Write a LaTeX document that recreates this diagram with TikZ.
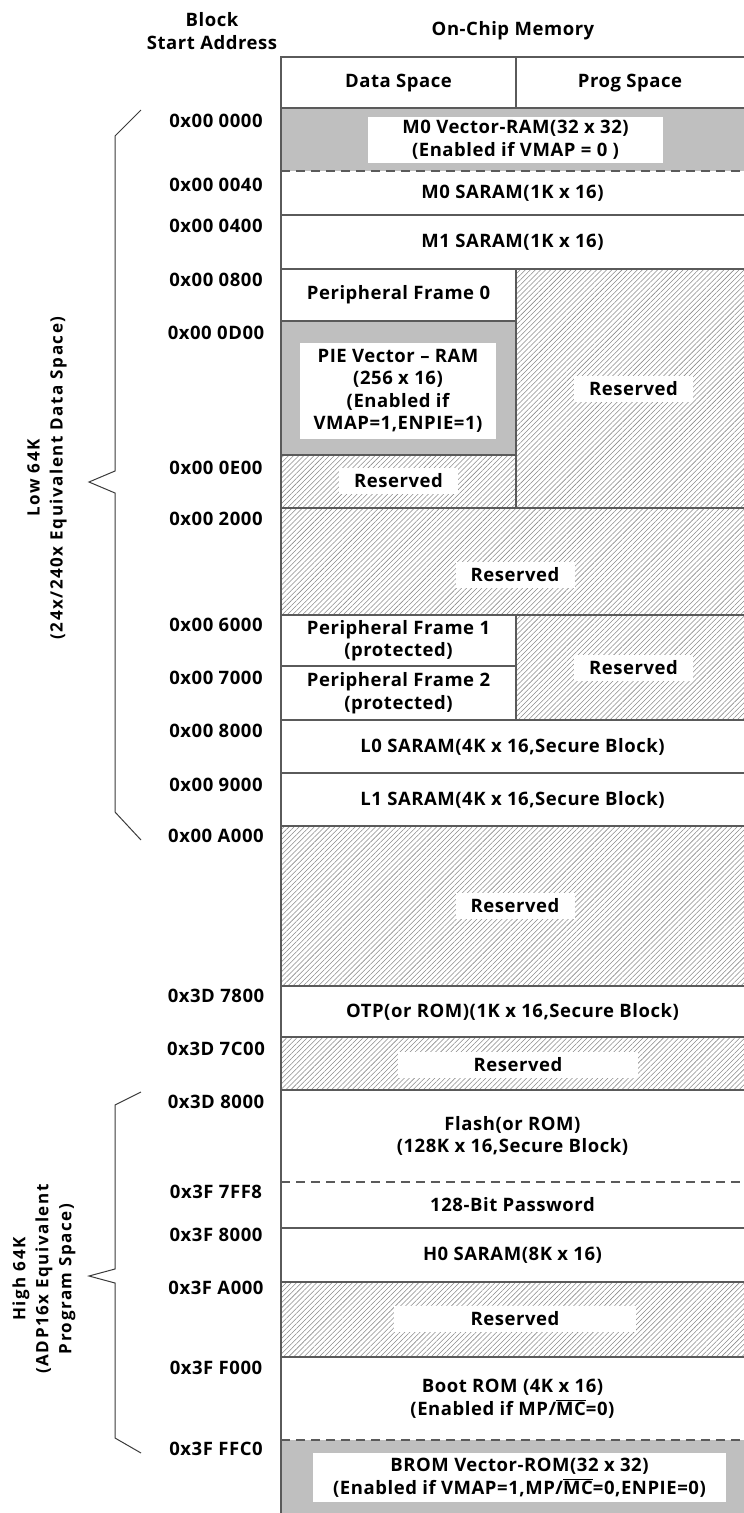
\documentclass[tikz,border=0pt]{standalone}
\usepackage{fontspec}
\setmainfont{Open Sans}[LetterSpace=3]
\newfontfamily\sidefont{Open Sans}[LetterSpace=9]
\usetikzlibrary{patterns.meta}
\definecolor{Grid}{HTML}{5A5A5A}
\definecolor{VecGray}{HTML}{BFBFBF}
\definecolor{Hatch}{HTML}{8A8A8A}
\definecolor{Brace}{HTML}{3A3A3A}
\newcommand\ovl[1]{$\overline{\hbox{#1}}$}
\tikzset{
  cellLine/.style={draw=Grid,line width=1.5pt},
  dashLine/.style={draw=Grid,line width=1.5pt,dash pattern=on 9pt off 6pt},
  resv/.style={pattern={Lines[angle=45,distance=3.6pt,line width=0.55pt]},pattern color=Hatch},
  txt/.style={align=center,inner sep=0pt,font=\bfseries\fontsize{18.5}{22.5}\selectfont,text=black},
  tag/.style={txt,fill=white,minimum height=26pt},
  addr/.style={txt},
  side/.style={align=center,font=\sidefont\bfseries\fontsize{17}{23}\selectfont,rotate=90},
  brace/.style={draw=Brace,line width=1pt}
}
\begin{document}
\begin{tikzpicture}[x=1pt,y=-1pt]
  \useasboundingbox (0,0) rectangle (744,1513);

  % grey vector blocks
  \fill[VecGray] (281,108) rectangle (745,171);
  \fill[VecGray] (281,321) rectangle (516,455);
  \fill[VecGray] (281,1440) rectangle (745,1513);

  % reserved areas
  \foreach \xa/\ya/\xb/\yb in {516/269/745/508,281/455/516/508,281/508/745/615,516/615/745/720,
                               281/826/745/986,281/1037/745/1090,281/1282/745/1357}
    \fill[resv] (\xa,\ya) rectangle (\xb,\yb);

  % grid
  \draw[cellLine] (745,57) -- (281,57) -- (281,1513);
  \foreach \y in {108,215,269,508,615,720,773,826,986,1037,1090,1228,1282,1357}
    \draw[cellLine] (281,\y) -- (745,\y);
  \foreach \y in {321,455,666}
    \draw[cellLine] (281,\y) -- (516,\y);
  \foreach \y in {171,1182,1440}
    \draw[dashLine] (281,\y) -- (745,\y);
  \draw[cellLine] (516,57) -- (516,108);
  \draw[cellLine] (516,269) -- (516,508);
  \draw[cellLine] (516,615) -- (516,720);

  % braces
  \draw[brace] (141,110) -- (115,136) -- (115,471) -- (89,482) -- (115,493) -- (115,812) -- (141,840);
  \draw[brace] (141,1092) -- (115,1105) -- (115,1269) -- (89,1276) -- (115,1283) -- (115,1438) -- (141,1453);
  \node[side] (lowlbl) at (47,478) {Low 64K\\(24x/240x Equivalent Data Space)};
  \node[side] (highlbl) at (44,1279) {High 64K\\(ADP16x Equivalent\\Program Space)};

  % headers
  \node[txt] (blkhdr) at (212,31) {Block\\Start Address};
  \node[txt] (chiphdr) at (513,31) {On-Chip Memory};
  \node[txt] (hdata) at (398.5,83) {Data Space};
  \node[txt] (hprog) at (630,83) {Prog Space};

  % start addresses
  \foreach \ad/\y [count=\i] in {0x00 0000/121,0x00 0040/185,0x00 0400/226,0x00 0800/280,0x00 0D00/333,
      0x00 0E00/468,0x00 2000/519,0x00 6000/625,0x00 7000/678,0x00 8000/731,0x00 9000/785,0x00 A000/836,
      0x3D 7800/996,0x3D 7C00/1049,0x3D 8000/1102,0x3F 7FF8/1192,0x3F 8000/1235,0x3F A000/1288,
      0x3F F000/1368,0x3F FFC0/1449}
    \node[addr] (a\i) at (216,\y) {\ad};

  % blocks
  \node[tag,minimum width=295pt,minimum height=46pt] (m0vec) at (515.5,140) {M0 Vector-RAM(32 x 32)\\(Enabled if VMAP = 0 )};
  \node[txt] (m0s) at (512.5,193) {M0 SARAM(1K x 16)};
  \node[txt] (m1s) at (512.5,242) {M1 SARAM(1K x 16)};
  \node[txt] (pf0) at (398.5,295) {Peripheral Frame 0};
  \node[tag,minimum width=119pt] (rsv1) at (633.5,388.5) {Reserved};
  \node[tag,minimum width=196pt,minimum height=96pt] (pievec) at (398,391) {PIE Vector – RAM\\(256 x 16)\\(Enabled if\\VMAP=1,ENPIE=1)};
  \node[tag,minimum width=119pt] (rsv2) at (398.5,481) {Reserved};
  \node[tag,minimum width=119pt] (rsv3) at (515,575) {Reserved};
  \node[txt] (pf1) at (398.5,640.5) {Peripheral Frame 1\\(protected)};
  \node[txt] (pf2) at (398.5,693) {Peripheral Frame 2\\(protected)};
  \node[tag,minimum width=119pt] (rsv4) at (633.5,667.5) {Reserved};
  \node[txt] (l0s) at (512.5,746.5) {L0 SARAM(4K x 16,Secure Block)};
  \node[txt] (l1s) at (512.5,799.5) {L1 SARAM(4K x 16,Secure Block)};
  \node[tag,minimum width=119pt] (rsv5) at (515,906) {Reserved};
  \node[txt] (otp) at (512.5,1011.5) {OTP(or ROM)(1K x 16,Secure Block)};
  \node[tag,minimum width=240pt] (rsv6) at (518,1065) {Reserved};
  \node[txt] (flash) at (512.5,1136) {Flash(or ROM)\\(128K x 16,Secure Block)};
  \node[txt] (pwd) at (512.5,1205) {128-Bit Password};
  \node[txt] (h0s) at (512.5,1255) {H0 SARAM(8K x 16)};
  \node[tag,minimum width=242pt] (rsv7) at (515,1319) {Reserved};
  \node[txt] (boot) at (512.5,1398.5) {Boot ROM (4K x 16)\\(Enabled if MP/\ovl{MC}=0)};
  \node[tag,minimum width=413pt,minimum height=49pt] (bromvec) at (519.5,1477.5) {BROM Vector-ROM(32 x 32)\\(Enabled if VMAP=1,MP/\ovl{MC}=0,ENPIE=0)};
\end{tikzpicture}
\end{document}
